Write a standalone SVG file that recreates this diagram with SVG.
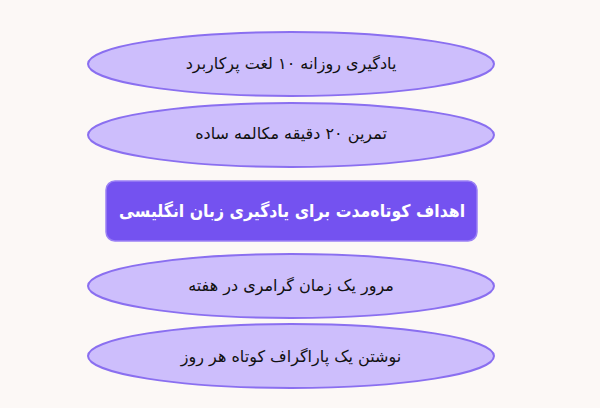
<svg xmlns="http://www.w3.org/2000/svg" width="600" height="408" viewBox="0 0 600 408">
<style>
.oval{fill:#cdbefc;stroke:#8a6ff0;stroke-width:2}
.t{font-family:"DejaVu Sans","Noto Sans",sans-serif;font-size:16px;fill:#111;text-anchor:middle;dominant-baseline:central;direction:rtl}
.ct{font-family:"DejaVu Sans Condensed","DejaVu Sans",sans-serif;font-size:17.5px;font-weight:bold;fill:#fff;text-anchor:middle;dominant-baseline:central;direction:rtl}
</style>
<rect width="600" height="408" fill="#fcf8f6"/>
<g id="connectors"></g>
<g id="n1"><ellipse class="oval" cx="291" cy="64" rx="203" ry="32"/><text class="t" x="291" y="63">یادگیری روزانه ۱۰ لغت پرکاربرد</text></g>
<g id="n2"><ellipse class="oval" cx="291" cy="135" rx="203" ry="32"/><text class="t" x="291" y="133">تمرین ۲۰ دقیقه مکالمه ساده</text></g>
<g id="center"><rect x="106" y="181" width="371" height="60" rx="9" fill="#7452f0" stroke="#9a80f5" stroke-width="1.5"/><text class="ct" x="292" y="211">اهداف کوتاه‌مدت برای یادگیری زبان انگلیسی</text></g>
<g id="n3"><ellipse class="oval" cx="291" cy="286" rx="203" ry="32"/><text class="t" x="291" y="285">مرور یک زمان گرامری در هفته</text></g>
<g id="n4"><ellipse class="oval" cx="291" cy="356" rx="203" ry="32"/><text class="t" x="291" y="356">نوشتن یک پاراگراف کوتاه هر روز</text></g>
</svg>
